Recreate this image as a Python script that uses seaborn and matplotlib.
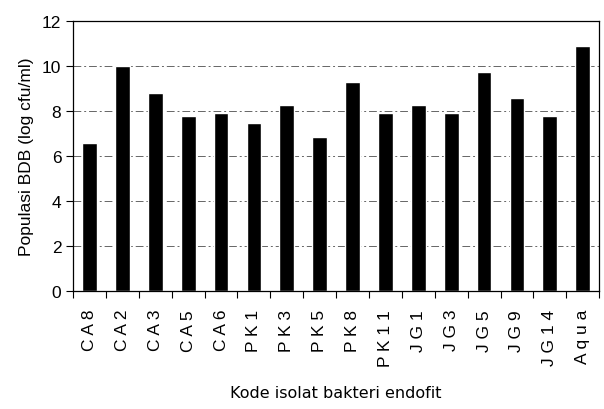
import pandas as pd
import seaborn as sns
import matplotlib.pyplot as plt

ISOLATES = ['CA8', 'CA2', 'CA3', 'CA5', 'CA6', 'PK1', 'PK3', 'PK5', 'PK8',
            'PK11', 'JG1', 'JG3', 'JG5', 'JG9', 'JG14', 'Aqua']
POPULATION = [6.6, 10.0, 8.8, 7.8, 7.9, 7.45, 8.25, 6.85, 9.3,
              7.9, 8.25, 7.9, 9.75, 8.6, 7.8, 10.9]
Y_TICKS = [0, 2, 4, 6, 8, 10, 12]


def draw_bar_plot():
    df = pd.DataFrame({'isolat': ISOLATES, 'populasi': POPULATION})

    sns.set_style('white')
    plt.rcParams['font.family'] = ['Liberation Sans', 'DejaVu Sans']
    plt.rcParams['text.color'] = 'black'
    plt.rcParams['axes.labelcolor'] = 'black'
    plt.rcParams['xtick.color'] = 'black'
    plt.rcParams['ytick.color'] = 'black'

    fig = plt.figure(figsize=(6.04, 4.10), dpi=100)
    ax = fig.add_axes([0.121, 0.288, 0.871, 0.658])
    ax.yaxis.grid(True, color='#666666', linestyle=(0, (8, 3, 2, 3)), linewidth=0.7)
    ax.set_axisbelow(True)
    sns.barplot(data=df, x='isolat', y='populasi', color='black', width=0.45,
                saturation=1, ax=ax)

    ax.set_ylim(0, 12)
    ax.set_xlim(-0.5, len(ISOLATES) - 0.5)
    ax.set_yticks(Y_TICKS)
    ax.set_yticklabels([str(t) for t in Y_TICKS], fontsize=12.5)

    ax.set_xticks(range(len(ISOLATES)))
    ax.set_xticklabels([' '.join(s) for s in ISOLATES], rotation=90, fontsize=12.5)
    ax.tick_params(axis='x', length=0, pad=13)
    ax.set_xticks([i - 0.5 for i in range(len(ISOLATES) + 1)], minor=True)
    ax.tick_params(axis='x', which='minor', length=5, width=0.8, direction='out', bottom=True)
    ax.tick_params(axis='y', length=5, width=0.8, direction='out', left=True)

    for spine in ax.spines.values():
        spine.set_color('black')
        spine.set_linewidth(0.9)

    ax.set_ylabel('Populasi BDB (log cfu/ml)', fontsize=12.5, labelpad=6)
    ax.set_xlabel('Kode isolat bakteri endofit', fontsize=11.5,
                  family=['DejaVu Sans'], labelpad=14)

    fig.savefig('out.png', dpi=100)
    return fig


draw_bar_plot()
